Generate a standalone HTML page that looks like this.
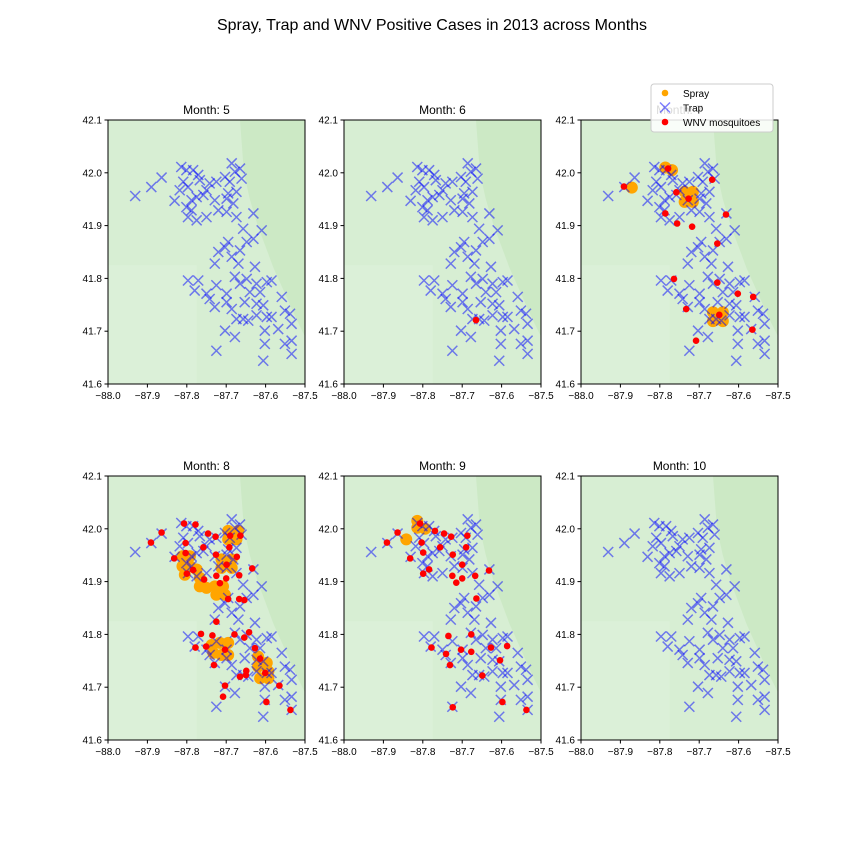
<!DOCTYPE html>
<html><head><meta charset="utf-8"><style>
body{margin:0;background:#fff;font-family:"Liberation Sans",sans-serif}
svg{display:block}
</style></head><body>
<svg id="chart" width="864" height="864" viewBox="0 0 864 864" xmlns="http://www.w3.org/2000/svg">
<text x="432" y="30" text-anchor="middle" font-size="16">Spray, Trap and WNV Positive Cases in 2013 across Months</text>
</svg>
<script>
const months=[5,6,7,8,9,10];
const xTicks=[-88.0,-87.9,-87.8,-87.7,-87.6,-87.5];
const yTicks=[41.6,41.7,41.8,41.9,42.0,42.1];
const trapLon=[-87.931,-87.890,-87.864,-87.831,-87.814,-87.801,-87.784,-87.771,-87.809,-87.797,-87.818,-87.767,-87.750,-87.758,-87.775,-87.788,-87.801,-87.788,-87.797,-87.775,-87.750,-87.729,-87.725,-87.742,-87.703,-87.686,-87.678,-87.665,-87.661,-87.691,-87.695,-87.674,-87.699,-87.682,-87.720,-87.699,-87.674,-87.657,-87.631,-87.610,-87.631,-87.648,-87.695,-87.703,-87.720,-87.729,-87.686,-87.669,-87.665,-87.627,-87.797,-87.771,-87.780,-87.750,-87.742,-87.725,-87.699,-87.729,-87.699,-87.678,-87.665,-87.648,-87.623,-87.597,-87.614,-87.585,-87.640,-87.653,-87.686,-87.674,-87.657,-87.623,-87.606,-87.585,-87.559,-87.551,-87.538,-87.534,-87.568,-87.597,-87.703,-87.678,-87.725,-87.602,-87.602,-87.606,-87.534,-87.534,-87.551,-87.623,-87.644];
const trapLat=[41.956,41.973,41.991,41.947,42.011,42.005,42.005,41.996,41.983,41.973,41.967,41.986,41.967,41.958,41.954,41.948,41.935,41.929,41.916,41.910,41.916,41.948,41.983,41.980,41.992,42.018,42.002,42.008,41.989,41.983,41.961,41.964,41.951,41.942,41.929,41.926,41.916,41.894,41.923,41.891,41.875,41.869,41.869,41.859,41.850,41.828,41.841,41.828,41.853,41.822,41.796,41.796,41.777,41.771,41.761,41.787,41.771,41.746,41.755,41.803,41.790,41.799,41.790,41.793,41.774,41.796,41.774,41.755,41.742,41.723,41.723,41.752,41.749,41.727,41.765,41.739,41.733,41.714,41.704,41.727,41.701,41.689,41.663,41.701,41.676,41.644,41.682,41.657,41.676,41.730,41.720];
const wnvLon={5:[],6:[-87.665],
7:[-87.779,-87.891,-87.667,-87.758,-87.727,-87.786,-87.632,-87.756,-87.718,-87.654,-87.764,-87.654,-87.602,-87.563,-87.733,-87.649,-87.565,-87.708],
8:[-87.807,-87.778,-87.864,-87.891,-87.746,-87.727,-87.690,-87.664,-87.803,-87.758,-87.692,-87.803,-87.832,-87.726,-87.673,-87.784,-87.699,-87.634,-87.800,-87.725,-87.667,-87.700,-87.756,-87.716,-87.695,-87.667,-87.654,-87.725,-87.764,-87.735,-87.679,-87.642,-87.654,-87.778,-87.751,-87.703,-87.627,-87.614,-87.731,-87.649,-87.665,-87.601,-87.650,-87.565,-87.703,-87.708,-87.598,-87.537],
9:[-87.807,-87.864,-87.891,-87.769,-87.746,-87.728,-87.687,-87.803,-87.756,-87.690,-87.799,-87.832,-87.724,-87.700,-87.784,-87.632,-87.799,-87.725,-87.667,-87.700,-87.715,-87.664,-87.735,-87.677,-87.778,-87.703,-87.677,-87.627,-87.586,-87.741,-87.731,-87.604,-87.649,-87.598,-87.724,-87.537],
10:[]};
const wnvLat={5:[],6:[41.721],
7:[42.008,41.974,41.987,41.963,41.951,41.923,41.921,41.904,41.898,41.866,41.799,41.792,41.771,41.765,41.742,41.731,41.703,41.682],
8:[42.010,42.008,41.993,41.974,41.991,41.985,41.987,41.987,41.973,41.965,41.965,41.954,41.944,41.951,41.947,41.922,41.932,41.925,41.915,41.911,41.912,41.906,41.904,41.897,41.867,41.867,41.865,41.824,41.801,41.798,41.800,41.804,41.794,41.775,41.777,41.771,41.774,41.754,41.742,41.731,41.720,41.727,41.723,41.703,41.703,41.682,41.672,41.657],
9:[42.010,41.993,41.974,41.996,41.991,41.985,41.987,41.974,41.965,41.965,41.955,41.944,41.951,41.932,41.923,41.921,41.915,41.911,41.911,41.906,41.898,41.868,41.797,41.800,41.775,41.771,41.767,41.775,41.778,41.763,41.742,41.751,41.722,41.672,41.662,41.657],
10:[]};
const sprayLon={5:[],6:[],
7:[-87.786,-87.769,-87.871,-87.737,-87.716,-87.737,-87.716,-87.726,-87.665,-87.640,-87.665,-87.640],
8:[-87.695,-87.669,-87.695,-87.674,-87.811,-87.792,-87.811,-87.792,-87.805,-87.775,-87.767,-87.767,-87.750,-87.729,-87.708,-87.725,-87.703,-87.712,-87.686,-87.712,-87.686,-87.737,-87.716,-87.695,-87.733,-87.712,-87.695,-87.619,-87.597,-87.619,-87.593,-87.614,-87.593],
9:[-87.814,-87.814,-87.842,-87.794],10:[]};
const sprayLat={5:[],6:[],
7:[42.010,42.005,41.972,41.964,41.964,41.945,41.945,41.954,41.736,41.736,41.719,41.719],
8:[41.996,41.996,41.980,41.980,41.948,41.948,41.929,41.929,41.913,41.923,41.907,41.891,41.888,41.891,41.891,41.875,41.875,41.942,41.942,41.926,41.926,41.780,41.784,41.784,41.765,41.761,41.761,41.758,41.746,41.739,41.730,41.717,41.717],
9:[42.015,42.002,41.980,42.000],10:[]};
const NS="http://www.w3.org/2000/svg";
const svg=document.getElementById('chart');
const colX=[108,344,581], rowY=[120,476], W=197, H=264;
function mk(tag,attrs,parent){const e=document.createElementNS(NS,tag);for(const k in attrs)e.setAttribute(k,attrs[k]);(parent||svg).appendChild(e);return e;}
const lakeLon=[-87.665,-87.655,-87.64,-87.62,-87.58,-87.55,-87.52,-87.5,-87.5];
const lakeLat=[42.1,42.0,41.95,41.9,41.82,41.77,41.72,41.69,42.1];
months.forEach((m,i)=>{
  const x0=colX[i%3], y0=rowY[Math.floor(i/3)];
  const sx=v=>x0+(v+88)/0.5*W, sy=v=>y0+(42.1-v)/0.5*H;
  const g=mk('g',{});
  
  
  const bg=mk('rect',{x:x0,y:y0,width:W,height:H,fill:'#d7eed3'},g);
  
  
  mk('rect',{x:x0,y:y0+H*0.55,width:W*0.45,height:H*0.45,fill:'#dbf0d8'},g);
  const pts=lakeLon.map((lo,k)=>sx(lo)+','+sy(lakeLat[k])).join(' ');
  const lake=mk('polygon',{points:pts,fill:'#cce9c5'},g);
  
  
  sprayLon[m].forEach((lo,k)=>{const c=mk('circle',{cx:sx(lo),cy:sy(sprayLat[m][k]),r:6,fill:'#ffa500'},g);
    
    });
  trapLon.forEach((lo,k)=>{const cx=sx(lo),cy=sy(trapLat[k]),d=5;
    const p=mk('path',{d:`M${cx-d},${cy-d}L${cx+d},${cy+d}M${cx-d},${cy+d}L${cx+d},${cy-d}`,stroke:'rgba(0,0,255,0.5)','stroke-width':1.5,fill:'none'},g);
    
    });
  wnvLon[m].forEach((lo,k)=>{const c=mk('circle',{cx:sx(lo),cy:sy(wnvLat[m][k]),r:3.3,fill:'#ff0000'},g);
    
    });
  mk('rect',{x:x0,y:y0,width:W,height:H,fill:'none',stroke:'#000','stroke-width':1},g);
  xTicks.forEach(t=>{const x=sx(t);mk('line',{x1:x,x2:x,y1:y0+H,y2:y0+H+3.5,stroke:'#000'},g);
    const tx=mk('text',{x:x,y:y0+H+15,'text-anchor':'middle','font-size':10},g);tx.textContent=t.toFixed(1).replace('-','\u2212');
    
    });
  yTicks.forEach(t=>{const y=sy(t);mk('line',{x1:x0-3.5,x2:x0,y1:y,y2:y,stroke:'#000'},g);
    const tx=mk('text',{x:x0-6,y:y+3.5,'text-anchor':'end','font-size':10},g);tx.textContent=t.toFixed(1);
    
    });
  const tt=mk('text',{x:x0+W/2,y:y0-6,'text-anchor':'middle','font-size':12},g);tt.textContent='Month: '+m;
  
  
});
const lg=mk('g',{});


mk('rect',{x:651,y:84,width:122,height:48,rx:3,fill:'rgba(255,255,255,0.85)',stroke:'#ccc'},lg);
const items=[['Spray','spray'],['Trap','trap'],['WNV mosquitoes','wnv']];
items.forEach((it,k)=>{const y=93+k*14.5;
  if(it[1]==='spray'){mk('circle',{cx:665,cy:y,r:3.3,fill:'#ffa500'},lg);}
  else if(it[1]==='wnv'){mk('circle',{cx:665,cy:y,r:3.3,fill:'#ff0000'},lg);}
  else{mk('path',{d:`M660,${y-5}L670,${y+5}M660,${y+5}L670,${y-5}`,stroke:'rgba(0,0,255,0.5)','stroke-width':1.5},lg);}
  const t=mk('text',{x:683,y:y+4,'font-size':10},lg);t.textContent=it[0];
  
  
});
</script>
</body></html>
